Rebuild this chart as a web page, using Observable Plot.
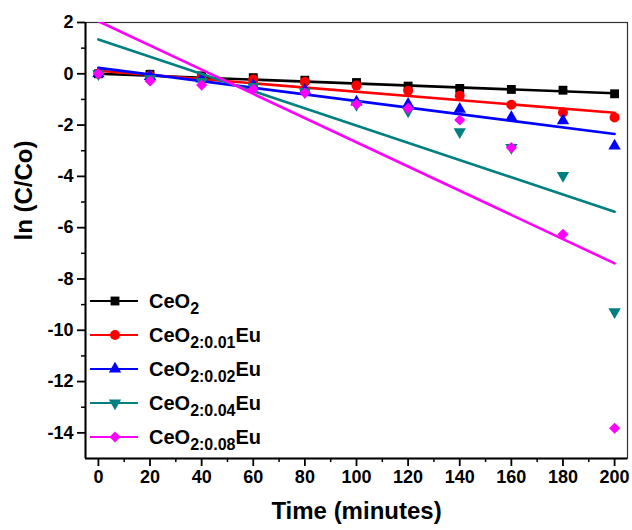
<!DOCTYPE html>
<html>
<head>
<meta charset="utf-8">
<script src="https://cdn.jsdelivr.net/npm/d3@7"></script>
<script src="https://cdn.jsdelivr.net/npm/@observablehq/plot@0.6"></script>
<style>
  html, body { margin: 0; padding: 0; background: #fff; }
  #wrap { position: relative; width: 632px; height: 530px; font-family: "Liberation Sans", Arial, sans-serif; }
  #legend { position: absolute; left: 88px; top: 284px; }
  .row { display: flex; align-items: center; height: 34px; }
  .row svg { display: block; }
  .lab { font-weight: bold; font-size: 20px; margin-left: 9px; line-height: 1; white-space: nowrap; }
  .lab sub { font-size: 16px; vertical-align: -6px; line-height: 0; }
</style>
</head>
<body>
<div id="wrap"><div id="legend"></div></div>
<script>
// ---- data ----
const time = [0, 20, 40, 60, 80, 100, 120, 140, 160, 180, 200];
const ceo2    = [0, -0.02, -0.08, -0.15, -0.25, -0.34, -0.48, -0.57, -0.61, -0.64, -0.78];
const eu001   = [0, -0.08, -0.15, -0.22, -0.31, -0.46, -0.66, -0.86, -1.21, -1.51, -1.70];
const eu002   = [0, -0.10, -0.20, -0.45, -0.65, -1.10, -1.18, -1.38, -1.70, -1.83, -2.81];
const eu004   = [0, -0.20, -0.30, -0.50, -0.70, -1.20, -1.45, -2.26, -2.88, -3.97, -9.28];
const eu008   = [0, -0.28, -0.44, -0.60, -0.75, -1.19, -1.35, -1.80, -2.88, -6.26, -13.82];
// linear fit lines: value at first and last time
const fitTimes = [0, 200];
const fitCeo2  = [0.00, -0.76];
const fitEu001 = [0.12, -1.52];
const fitEu002 = [0.23, -2.35];
const fitEu004 = [1.34, -5.38];
const fitEu008 = [2.05, -7.39];

const seriesNames = ["CeO2", "CeO2:0.01Eu", "CeO2:0.02Eu", "CeO2:0.04Eu", "CeO2:0.08Eu"];
const subs = ["2", "2:0.01", "2:0.02", "2:0.04", "2:0.08"];
const suffix = ["", "Eu", "Eu", "Eu", "Eu"];
const colors = ["#000000", "#ff0000", "#0000ff", "#008080", "#ff00ff"];
const xTicks = [0, 20, 40, 60, 80, 100, 120, 140, 160, 180, 200];
const yTicks = [2, 0, -2, -4, -6, -8, -10, -12, -14];
const xDomain = [-5, 205];
const yDomain = [-15, 2];

const triangleDown = {
  draw(ctx, size) {
    const y = -Math.sqrt(size / (3 * Math.sqrt(3)));
    ctx.moveTo(0, -2 * y);
    ctx.lineTo(-Math.sqrt(3) * y, y);
    ctx.lineTo(Math.sqrt(3) * y, y);
    ctx.closePath();
  }
};
const symbols = ["square", "circle", "triangle", triangleDown, "diamond2"];
const radii = [5, 5, 4.6, 4.6, 5];
const values = [ceo2, eu001, eu002, eu004, eu008];
const fits = [fitCeo2, fitEu001, fitEu002, fitEu004, fitEu008];

const marks = [];
values.forEach((vals, i) => {
  const pts = time.map((t, j) => ({t, v: vals[j]}));
  const fit = fitTimes.map((t, j) => ({t, v: fits[i][j]}));
  marks.push(Plot.line(fit, {x: "t", y: "v", stroke: colors[i], strokeWidth: 2.6, clip: true}));
  marks.push(Plot.dot(pts, {x: "t", y: "v", symbol: symbols[i], r: radii[i], fill: colors[i], stroke: "none"}));
});

const minorX = d3.range(10, 200, 20);
const minorY = d3.range(1, -15, -2);

const plot = Plot.plot({
  width: 632,
  height: 530,
  marginLeft: 85,
  marginRight: 5,
  marginTop: 22,
  marginBottom: 72,
  x: {domain: xDomain},
  y: {domain: yDomain},
  style: {fontFamily: '"Liberation Sans", Arial, sans-serif', fontWeight: "bold", fontSize: "18px", color: "#000", background: "#fff"},
  marks: [
    Plot.frame({stroke: "#333", strokeWidth: 1.2}),
    ...marks,
    Plot.ruleX([xDomain[0]], {stroke: "#000", strokeWidth: 2}),
    Plot.ruleY([yDomain[0]], {stroke: "#000", strokeWidth: 2}),
    Plot.axisX({ticks: xTicks, tickSize: 8, tickPadding: 4, strokeWidth: 1.8, label: null, tickFormat: d => String(d)}),
    Plot.axisX({ticks: minorX, tickSize: 4, strokeWidth: 1.5, text: null, label: null}),
    Plot.axisY({ticks: yTicks, tickSize: 8, tickPadding: 4, strokeWidth: 1.8, label: null, tickFormat: d => String(d)}),
    Plot.axisY({ticks: minorY, tickSize: 4, strokeWidth: 1.5, text: null, label: null}),
    Plot.text(["Time (minutes)"], {frameAnchor: "bottom", dy: 60, fontSize: 24, fontWeight: "bold", fill: "#000"}),
    Plot.text(["ln (C/Co)"], {frameAnchor: "left", dx: -61, rotate: -90, fontSize: 24, fontWeight: "bold", fill: "#000"})
  ]
});
document.getElementById("wrap").prepend(plot);

// legend
const legend = d3.select("#legend");
seriesNames.forEach((name, i) => {
  const row = legend.append("div").attr("class", "row");
  const svg = row.append("svg").attr("width", 52).attr("height", 20);
  svg.append("line").attr("x1", 2).attr("x2", 50).attr("y1", 10).attr("y2", 10)
    .attr("stroke", colors[i]).attr("stroke-width", 2);
  const symType = {square: d3.symbolSquare, circle: d3.symbolCircle, triangle: d3.symbolTriangle, diamond2: d3.symbolDiamond2};
  const st = typeof symbols[i] === "string" ? symType[symbols[i]] : symbols[i];
  svg.append("path").attr("transform", "translate(27,10)")
    .attr("d", d3.symbol(st, radii[i] * radii[i] * Math.PI)())
    .attr("fill", colors[i]);
  const lab = row.append("div").attr("class", "lab");
  lab.html(`CeO<sub>${subs[i]}</sub>${suffix[i]}`);
});
</script>
</body>
</html>
